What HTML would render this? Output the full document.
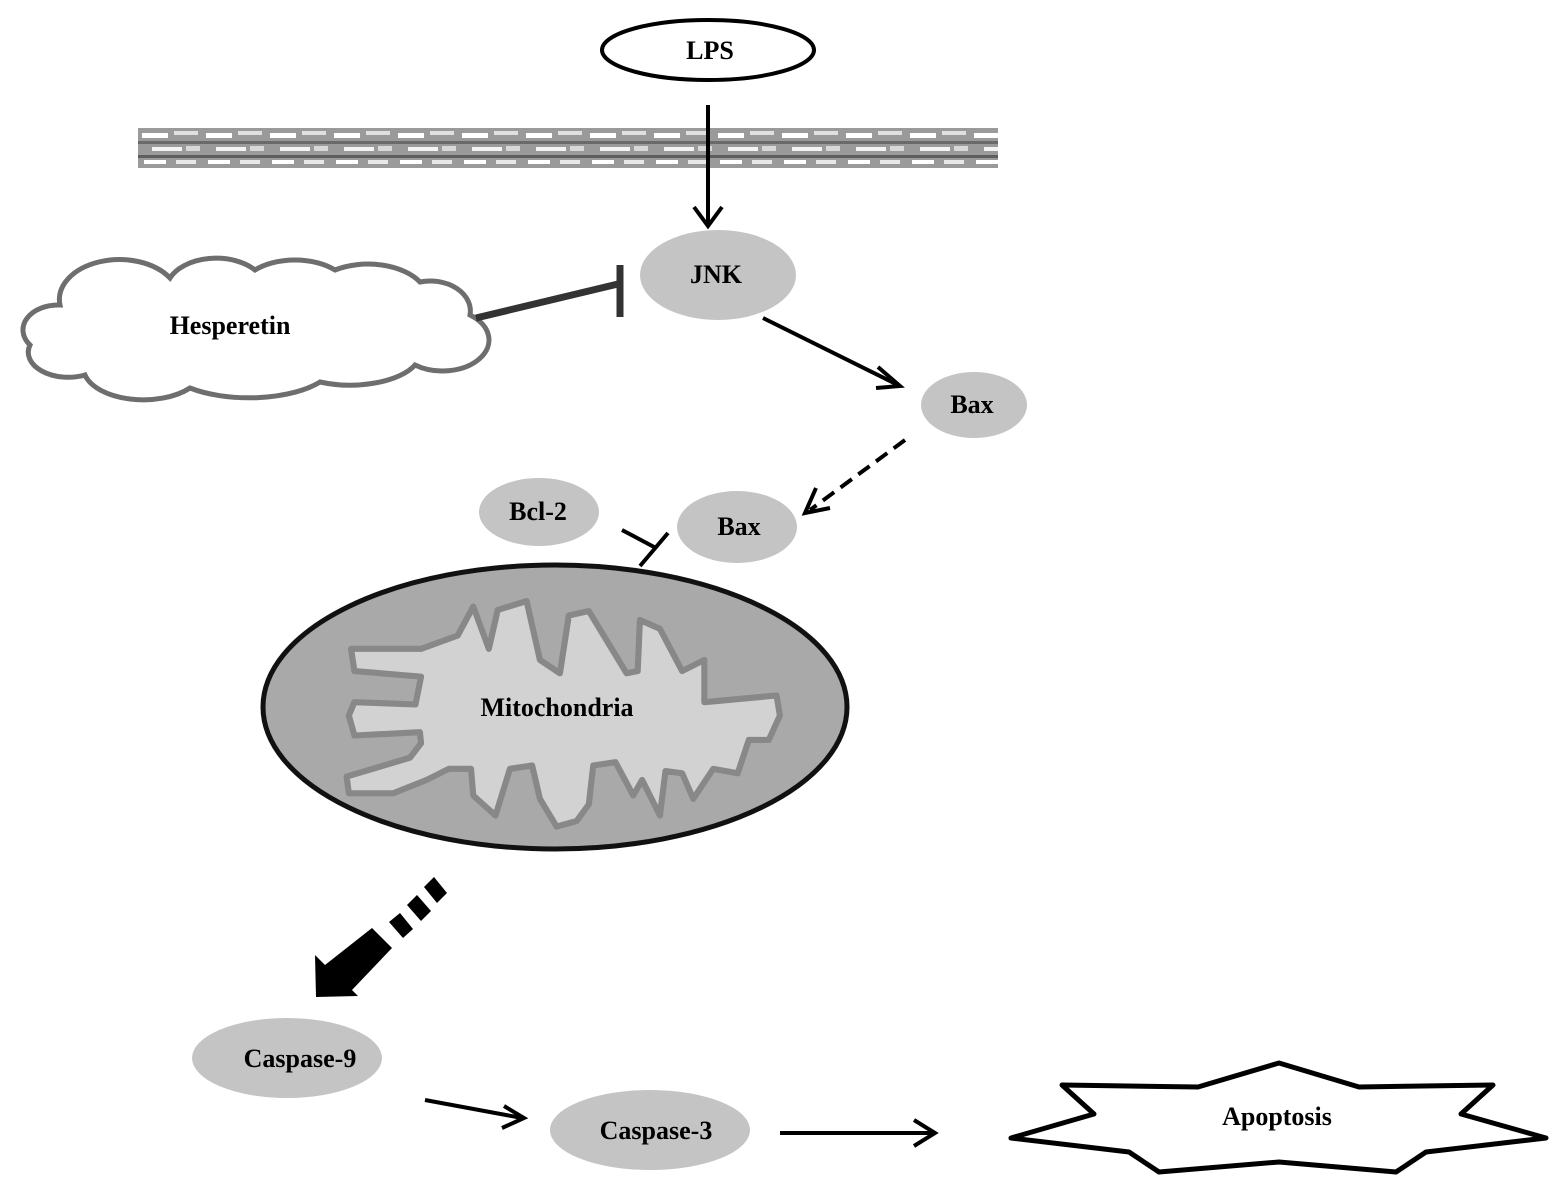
<!DOCTYPE html>
<html><head><meta charset="utf-8"><style>
html,body{margin:0;padding:0;background:#fff;}
svg{display:block;}
text{font-family:"Liberation Serif",serif;font-weight:bold;font-size:26px;fill:#000;text-anchor:middle;}
</style></head><body>
<svg width="1559" height="1186" viewBox="0 0 1559 1186" xmlns="http://www.w3.org/2000/svg">
<defs>
<pattern id="mem" x="138" y="125" width="64" height="45" patternUnits="userSpaceOnUse">
<rect width="64" height="45" fill="#9a9a9a"/>
<rect x="4" y="8" width="26" height="5" fill="#fff"/>
<rect x="36" y="6" width="24" height="4" fill="#e0e0e0"/>
<rect x="0" y="16" width="64" height="3" fill="#6a6a6a"/>
<rect x="14" y="22" width="30" height="4" fill="#f4f4f4"/>
<rect x="48" y="21" width="14" height="5" fill="#d8d8d8"/>
<rect x="0" y="30" width="64" height="3" fill="#5e5e5e"/>
<rect x="6" y="35" width="22" height="4" fill="#fff"/>
<rect x="38" y="35" width="20" height="4" fill="#e8e8e8"/>
</pattern>
</defs>

<ellipse cx="708" cy="50" rx="106" ry="30" fill="#fff" stroke="#000" stroke-width="4"/>
<text x="710" y="59">LPS</text>

<rect x="138" y="128" width="860" height="40" fill="url(#mem)"/>

<line x1="708" y1="105" x2="708" y2="226" stroke="#000" stroke-width="4"/>
<polyline points="694,207 708,226 722,207" fill="none" stroke="#000" stroke-width="4"/>

<ellipse cx="718" cy="275" rx="78" ry="45" fill="#c4c4c4"/>
<text x="716" y="283">JNK</text>

<path d="M60,305 A60,40 0 0 1 170,278 A50,32 0 0 1 255,270 A55,32 0 0 1 335,270 A60,36 0 0 1 420,282 A40,30 0 0 1 470,315 A42,28 0 0 1 415,365 A70,32 0 0 1 320,382 A85,35 0 0 1 190,388 A60,32 0 0 1 85,375 A40,25 0 0 1 30,345 A35,25 0 0 1 60,305 Z" fill="#fff" stroke="#6e6e6e" stroke-width="5"/>
<text x="230" y="334">Hesperetin</text>
<line x1="476" y1="318" x2="618" y2="284" stroke="#333" stroke-width="7"/>
<line x1="620" y1="265" x2="620" y2="317" stroke="#333" stroke-width="7"/>

<line x1="763" y1="318" x2="898" y2="385" stroke="#000" stroke-width="4"/>
<polyline points="878,367 900,386 876,388" fill="none" stroke="#000" stroke-width="4"/>

<ellipse cx="974" cy="405" rx="53" ry="33" fill="#c4c4c4"/>
<text x="972" y="413">Bax</text>

<line x1="905" y1="440" x2="810" y2="510" stroke="#000" stroke-width="4" stroke-dasharray="14,8"/>
<polyline points="816,488 805,513 830,508" fill="none" stroke="#000" stroke-width="4"/>

<ellipse cx="539" cy="512" rx="60" ry="34" fill="#c4c4c4"/>
<text x="538" y="520">Bcl-2</text>
<ellipse cx="737" cy="527" rx="60" ry="36" fill="#c4c4c4"/>
<text x="739" y="535">Bax</text>

<line x1="622" y1="530" x2="656" y2="548" stroke="#000" stroke-width="4"/>
<line x1="640" y1="566" x2="668" y2="533" stroke="#000" stroke-width="4"/>

<ellipse cx="555" cy="707" rx="292" ry="142" fill="#a9a9a9" stroke="#111" stroke-width="5"/>
<path transform="matrix(1.111 0 0 1.111 -28.9 -62.2)" d="M342,640 L405,640 L438,628 L452,602 L466,640 L474,605 L500,597 L512,650 L530,662 L538,610 L556,606 L590,662 L600,660 L602,614 L620,622 L640,660 L660,650 L660,688 L725,682 L728,700 L718,722 L700,722 L690,752 L668,748 L650,775 L640,752 L625,750 L620,790 L604,758 L596,772 L580,742 L560,745 L556,780 L545,795 L527,800 L512,775 L505,745 L485,748 L472,790 L452,772 L450,748 L430,748 L410,758 L380,770 L340,770 L338,755 L395,738 L405,725 L404,715 L345,718 L340,700 L345,688 L400,690 L405,665 L345,660 Z" fill="#d2d2d2" stroke="#888" stroke-width="5.5" stroke-linejoin="round"/>
<text x="557" y="716">Mitochondria</text>

<g fill="#000">
<polygon points="424,887 434,877 447,893 437,903"/>
<polygon points="407,905 417,895 431,911 421,921"/>
<polygon points="389,922 400,913 413,929 403,938"/>
<polygon points="372,928 392,948 352,990 358,996 316,997 315,955 325,965"/>
</g>

<ellipse cx="287" cy="1058" rx="95" ry="40" fill="#c4c4c4"/>
<text x="300" y="1067">Caspase-9</text>

<line x1="425" y1="1100" x2="522" y2="1118" stroke="#000" stroke-width="4"/>
<polyline points="504,1106 524,1118 502,1128" fill="none" stroke="#000" stroke-width="4"/>

<ellipse cx="650" cy="1130" rx="100" ry="40" fill="#c4c4c4"/>
<text x="656" y="1139">Caspase-3</text>

<line x1="780" y1="1133" x2="933" y2="1133" stroke="#000" stroke-width="4"/>
<polyline points="914,1120 935,1133 914,1146" fill="none" stroke="#000" stroke-width="4"/>

<polygon points="1062,1085 1094,1114 1011,1138 1129,1152 1159,1172 1279,1162 1396,1172 1426,1152 1546,1138 1461,1114 1493,1085 1359,1087 1279,1063 1198,1087" fill="#fff" stroke="#000" stroke-width="5" stroke-linejoin="round"/>
<text x="1277" y="1125">Apoptosis</text>
</svg>
</body></html>
